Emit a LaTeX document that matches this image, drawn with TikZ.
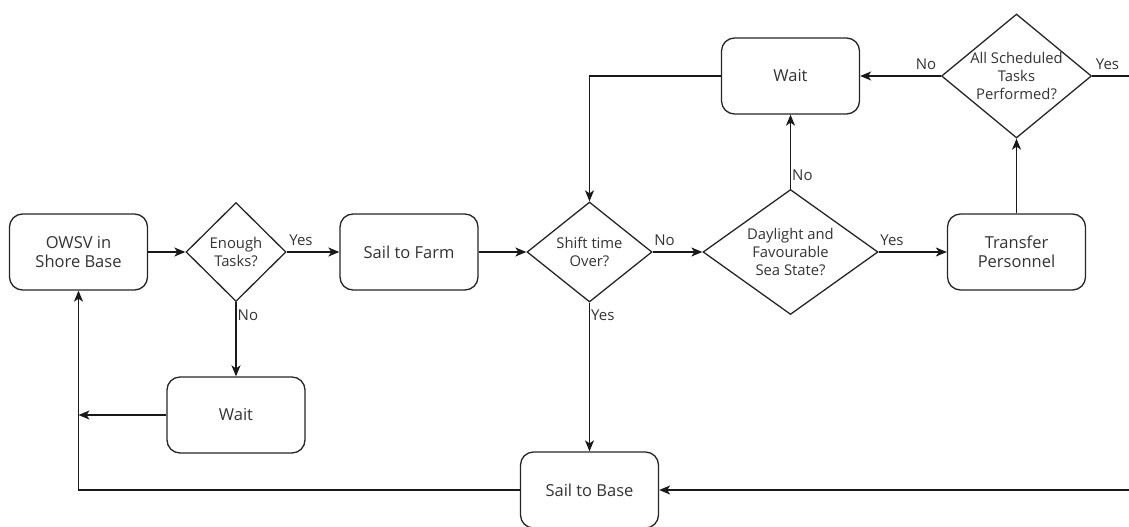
\documentclass[tikz,border=0pt]{standalone}
\usepackage{fontspec}
\setmainfont{Open Sans}
\usetikzlibrary{shapes.geometric,arrows.meta}
\definecolor{txt}{HTML}{333333}
\tikzset{
  box/.style={draw=black!85, line width=1.3pt, rounded corners=13pt, minimum width=138pt, minimum height=76pt, align=center, text=txt, font=\fontsize{16.5}{18.5}\selectfont, fill=white},
  dia/.style={draw=black!85, line width=1.3pt, shape=diamond, inner sep=0pt, fill=white},
  dtext/.style={align=center, text=txt, font=\fontsize{14.8}{18}\selectfont, inner sep=0pt},
  lbl/.style={text=txt, font=\fontsize{15}{16}\selectfont, inner sep=0.5pt},
  conn/.style={line width=1.3pt, draw=black!90},
  arr/.style={conn, -{Stealth[length=11pt,width=9pt,inset=3pt]}},
}
\begin{document}
\begin{tikzpicture}[x=1pt,y=-1pt]
\clip (0,0) rectangle (1129,527);
% nodes
\node[box] (owsv) at (78.5,252) {OWSV in\\Shore Base};
\node[dia, minimum width=100pt, minimum height=99pt, label={[dtext]center:{Enough\\Tasks?}}] (enough) at (236,252) {};
\node[box] (sailfarm) at (409,252) {Sail to Farm};
\node[dia, minimum width=125pt, minimum height=100pt, label={[dtext]center:{Shift time\\Over?}}] (shift) at (589.5,252) {};
\node[dia, minimum width=175pt, minimum height=125pt, label={[dtext]center:{Daylight and\\Favourable\\Sea State?}}] (daylight) at (790.5,252) {};
\node[box] (transfer) at (1016.5,252) {Transfer\\Personnel};
\node[dia, minimum width=150pt, minimum height=124pt, label={[dtext]center:{All Scheduled\\Tasks\\Performed?}}] (allsched) at (1016.5,76) {};
\node[box] (waittop) at (790.5,76) {Wait};
\node[box] (waitbot) at (236,415) {Wait};
\node[box] (sailbase) at (589.5,490) {Sail to Base};
\coordinate (offright) at (1170,76);
% connectors
\draw[arr] (owsv.east) -- (enough.west);
\draw[arr] (enough.east) -- (sailfarm.west);
\draw[arr] (enough.south) -- (waitbot.north);
\draw[arr] (waitbot.west) -- (waitbot.west -| owsv.south);
\draw[arr] (sailbase.west) -| (owsv.south);
\draw[arr] (sailfarm.east) -- (shift.west);
\draw[arr] (shift.east) -- (daylight.west);
\draw[arr] (shift.south) -- (sailbase.north);
\draw[arr] (daylight.east) -- (transfer.west);
\draw[arr] (daylight.north) -- (waittop.south);
\draw[arr] (transfer.north) -- (allsched.south);
\draw[arr] (allsched.west) -- (waittop.east);
\draw[arr] (waittop.west) -| (shift.north);
\draw[arr] (allsched.east) -- (offright) |- (sailbase.east);
% labels
\node[lbl, anchor=west] (l1) at ([shift={(2,-12)}]enough.east) {Yes};
\node[lbl, anchor=west] (l2) at ([shift={(1,13)}]enough.south) {No};
\node[lbl, anchor=west] (l3) at ([shift={(1,-12)}]shift.east) {No};
\node[lbl, anchor=west] (l4) at ([shift={(1,13)}]shift.south) {Yes};
\node[lbl, anchor=west] (l5) at ([shift={(1,-12)}]daylight.east) {Yes};
\node[lbl, anchor=west] (l6) at ([shift={(1,-14)}]daylight.north) {No};
\node[lbl, anchor=east] (l7) at ([shift={(-4,-12)}]allsched.west) {No};
\node[lbl, anchor=west] (l8) at ([shift={(3,-12)}]allsched.east) {Yes};
\end{tikzpicture}
\end{document}
